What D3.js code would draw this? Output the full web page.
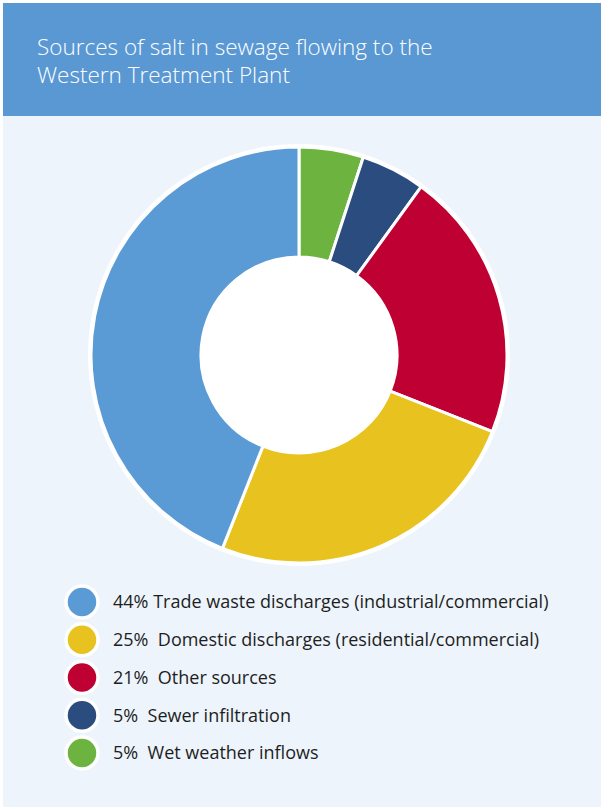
<!DOCTYPE html>
<html>
<head>
<meta charset="utf-8">
<script src="https://cdn.jsdelivr.net/npm/d3@7"></script>
<style>
  body { margin: 0; background: #fff; }
  svg text { font-family: "Open Sans", "Noto Sans", sans-serif; }
</style>
</head>
<body>
<div id="chart"></div>
<script>
// --- data ---
const titleLines = ["Sources of salt in sewage flowing to the", "Western Treatment Plant"];
const categories = ["Wet weather inflows", "Sewer infiltration", "Other sources",
                    "Domestic discharges (residential/commercial)", "Trade waste discharges (industrial/commercial)"];
const values = [5, 5, 21, 25, 44];
const colors = ["#6db33f", "#2b4c7e", "#be0032", "#e8c31f", "#5b9bd5"];
// legend order (top to bottom) and labels as printed
const legendOrder = [4, 3, 2, 1, 0];
const legendLabels = ["44% Trade waste discharges (industrial/commercial)",
                      "25%  Domestic discharges (residential/commercial)",
                      "21%  Other sources",
                      "5%  Sewer infiltration",
                      "5%  Wet weather inflows"];

const W = 604, H = 810;
const svg = d3.select("#chart").append("svg")
    .attr("width", W).attr("height", H);

// achtergrond + kop
svg.append("rect").attr("x", 3).attr("y", 3).attr("width", W - 6).attr("height", H - 6).attr("fill", "#edf4fb");
svg.append("rect").attr("x", 3).attr("y", 3).attr("width", W - 6).attr("height", 113).attr("fill", "#5a98d4");

// titel als één tekst met twee regels
svg.append("text")
    .attr("x", 37).attr("y", 55)
    .attr("fill", "#fff").attr("font-size", 22.5).attr("font-weight", 300)
    .selectAll("tspan").data(titleLines).enter().append("tspan")
    .attr("x", 37).attr("dy", (d, i) => i === 0 ? 0 : 28)
    .text(d => d);

// --- donut ---
const cx = 299, cy = 355;
const pie = d3.pie().sort(null).value(d => d);
const arc = d3.arc().innerRadius(98).outerRadius(208);

const g = svg.append("g").attr("transform", `translate(${cx},${cy})`);
g.append("circle").attr("r", 211).attr("fill", "#fff");
g.selectAll("path").data(pie(values)).enter().append("path")
    .attr("d", arc)
    .attr("fill", (d, i) => colors[i])
    .attr("stroke", "#fff").attr("stroke-width", 3).attr("stroke-linejoin", "round");
g.append("circle").attr("r", 98).attr("fill", "#fff");

// --- legenda ---
const y = d3.scalePoint().domain(d3.range(legendOrder.length)).range([602, 753]);
const leg = svg.append("g").selectAll("g").data(legendOrder).enter().append("g")
    .attr("transform", (d, i) => `translate(82,${y(i)})`);
leg.append("circle").attr("r", 16).attr("fill", d => colors[d])
    .attr("stroke", "#fff").attr("stroke-width", 3.5);
leg.append("text")
    .attr("x", 31).attr("y", 0).attr("dy", "0.35em")
    .attr("font-size", 18).attr("fill", "#1e1e1e")
    .style("white-space", "pre")
    .text((d, i) => legendLabels[i]);
</script>
</body>
</html>
